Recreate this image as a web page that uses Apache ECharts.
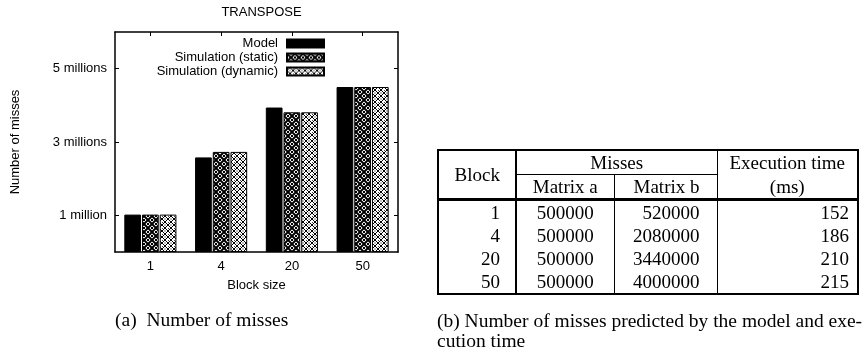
<!DOCTYPE html>
<html>
<head>
<meta charset="utf-8">
<script src="https://cdn.jsdelivr.net/npm/echarts@6/dist/echarts.min.js"></script>
<style>
  html, body { margin:0; padding:0; background:#fff; }
  #wrap { position:relative; width:866px; height:353px; overflow:hidden; }
  #chart { position:absolute; left:0; top:0; width:866px; height:353px; }
  #tbl { position:absolute; left:437px; top:149px; border-collapse:collapse; table-layout:fixed;
         font-family:"Liberation Serif","DejaVu Serif",serif; font-size:19px; color:#000;
         border:2px solid #000; width:420px; }
  #tbl td { padding:0; line-height:23px; height:23px; white-space:nowrap; }
  .cap { position:absolute; font-family:"Liberation Serif","DejaVu Serif",serif; font-size:19.5px; color:#000; white-space:nowrap; }
</style>
</head>
<body>
<div id="wrap">
  <div id="chart"></div>
  <table id="tbl"></table>
  <div class="cap" id="capA" style="left:115px; top:309px;"></div>
  <div class="cap" id="capB1" style="left:437px; top:310px; width:420px; text-align:justify; text-align-last:justify;"></div>
  <div class="cap" id="capB2" style="left:437px; top:330px;"></div>
</div>
<script>
// ---- data ----
const categories = ['1', '4', '20', '50'];
const modelMisses = [1020000, 2580000, 3940000, 4500000];
const staticMisses = [1020000, 2730000, 3810000, 4500000];
const dynamicMisses = [1020000, 2730000, 3810000, 4500000];
const yTickValues = [1000000, 3000000, 5000000];
const yTickLabels = ['1 million', '3 millions', '5 millions'];
const seriesNames = ['Model', 'Simulation (static)', 'Simulation (dynamic)'];

const tableBlocks = [1, 4, 20, 50];
const tableMatrixA = [500000, 500000, 500000, 500000];
const tableMatrixB = [520000, 2080000, 3440000, 4000000];
const tableExecMs = [152, 186, 210, 215];

const titleText = 'TRANSPOSE';
const xName = 'Block size';
const yName = 'Number of misses';
const captionA = '(a)\u00a0 Number of misses';
const captionB1 = '(b) Number of misses predicted by the model and exe-';
const captionB2 = 'cution time';

// ---- patterns ----
function patternStatic() {
  const c = document.createElement('canvas'); c.width = 8; c.height = 8;
  const g = c.getContext('2d');
  g.fillStyle = '#fff'; g.fillRect(0, 0, 8, 8);
  g.strokeStyle = '#000'; g.lineWidth = 2;
  g.beginPath(); g.moveTo(-1, -1); g.lineTo(9, 9); g.moveTo(9, -1); g.lineTo(-1, 9); g.stroke();
  g.fillStyle = '#000';
  g.fillRect(3, 0, 2, 1); g.fillRect(0, 3, 1, 2); g.fillRect(7, 3, 1, 2); g.fillRect(3, 7, 2, 1);
  return c;
}
function patternDynamic() {
  const c = document.createElement('canvas'); c.width = 6; c.height = 6;
  const g = c.getContext('2d');
  g.fillStyle = '#fff'; g.fillRect(0, 0, 6, 6);
  g.strokeStyle = '#000'; g.lineWidth = 1;
  g.beginPath(); g.moveTo(3, 0); g.lineTo(6, 3); g.lineTo(3, 6); g.lineTo(0, 3); g.closePath(); g.stroke();
  g.fillStyle = '#000'; g.fillRect(2.5, 2.5, 1, 1);
  g.fillStyle = '#444'; g.fillRect(0, 0, 1, 1);
  return c;
}

const font = '"Liberation Sans", Arial, sans-serif';
const chart = echarts.init(document.getElementById('chart'), null, { renderer: 'canvas' });
const axisLine = { show: true, onZero: false, lineStyle: { color: '#000', width: 1.5 } };
const barCommon = { type: 'bar', barWidth: 16.7, barGap: '6%' };

chart.setOption({
  animation: false,
  backgroundColor: '#fff',
  title: { text: titleText, left: 256.5, top: 1, textAlign: 'center',
    textStyle: { fontFamily: font, fontSize: 13, fontWeight: 'normal', color: '#000' } },
  legend: {
    orient: 'vertical', right: 541, top: 37, align: 'right', padding: 0,
    itemWidth: 37, itemHeight: 8, itemGap: 1, icon: 'rect',
    textStyle: { fontFamily: font, fontSize: 13, lineHeight: 13, color: '#000', padding: [0, 4, 0, 0] },
    data: seriesNames
  },
  grid: { left: 115, right: 468, top: 32, bottom: 101 },
  xAxis: [
    { type: 'category', data: categories, position: 'bottom',
      axisLine: axisLine,
      axisTick: { show: true, inside: true, length: 4, alignWithLabel: true, lineStyle: { color: '#000' } },
      axisLabel: { margin: 8, fontFamily: font, fontSize: 13, color: '#000' },
      name: xName, nameLocation: 'middle', nameGap: 27,
      nameTextStyle: { fontFamily: font, fontSize: 13, color: '#000' } },
    { type: 'category', data: categories, position: 'top',
      axisLine: axisLine,
      axisTick: { show: true, inside: true, length: 4, alignWithLabel: true, lineStyle: { color: '#000' } },
      axisLabel: { show: false } }
  ],
  yAxis: [
    { type: 'value', min: 0, max: 6000000, position: 'left',
      axisLine: axisLine, splitLine: { show: false },
      axisTick: { show: true, inside: true, length: 4, customValues: yTickValues, lineStyle: { color: '#000' } },
      axisLabel: { margin: 8, fontFamily: font, fontSize: 13, color: '#000', customValues: yTickValues,
        formatter: v => yTickLabels[yTickValues.indexOf(v)] || '' },
      name: yName, nameLocation: 'middle', nameGap: 93,
      nameTextStyle: { fontFamily: font, fontSize: 13, color: '#000' } },
    { type: 'value', min: 0, max: 6000000, position: 'right',
      axisLine: axisLine, splitLine: { show: false },
      axisTick: { show: true, inside: true, length: 4, customValues: yTickValues, lineStyle: { color: '#000' } },
      axisLabel: { show: false } }
  ],
  series: [
    Object.assign({}, barCommon, { name: seriesNames[0], data: modelMisses,
      itemStyle: { color: '#000', borderColor: '#000', borderWidth: 1 } }),
    Object.assign({}, barCommon, { name: seriesNames[1], data: staticMisses,
      itemStyle: { color: { image: patternStatic(), repeat: 'repeat' }, borderColor: '#000', borderWidth: 1 } }),
    Object.assign({}, barCommon, { name: seriesNames[2], data: dynamicMisses,
      itemStyle: { color: { image: patternDynamic(), repeat: 'repeat' }, borderColor: '#000', borderWidth: 1 } })
  ]
});

// ---- table ----
const B = '2px solid #000', T = '1.5px solid #000', t1 = '1px solid #000';
let html = '<colgroup><col style="width:78px"><col style="width:98px"><col style="width:103px"><col style="width:141px"></colgroup>';
html += '<tr>' +
  '<td rowspan="2" style="text-align:right;padding-right:15px;border-right:' + B + ';border-bottom:3px solid #000;">Block</td>' +
  '<td colspan="2" style="text-align:center;border-bottom:' + t1 + ';border-right:' + T + ';">Misses</td>' +
  '<td style="text-align:center;">Execution time</td></tr>';
html += '<tr style="border-bottom:3px solid #000;">' +
  '<td style="text-align:center;border-right:' + T + ';">Matrix a</td>' +
  '<td style="text-align:right;padding-right:17px;border-right:' + T + ';">Matrix b</td>' +
  '<td style="text-align:center;">(ms)</td></tr>';
for (let i = 0; i < tableBlocks.length; i++) {
  html += '<tr>' +
    '<td style="text-align:right;padding-right:15px;border-right:' + B + ';">' + tableBlocks[i] + '</td>' +
    '<td style="text-align:center;border-right:' + T + ';">' + tableMatrixA[i] + '</td>' +
    '<td style="text-align:right;padding-right:17px;border-right:' + T + ';">' + tableMatrixB[i] + '</td>' +
    '<td style="text-align:right;padding-right:8px;">' + tableExecMs[i] + '</td></tr>';
}
document.getElementById('tbl').innerHTML = html;
document.getElementById('capA').textContent = captionA;
document.getElementById('capB1').textContent = captionB1;
document.getElementById('capB2').textContent = captionB2;
</script>
</body>
</html>
